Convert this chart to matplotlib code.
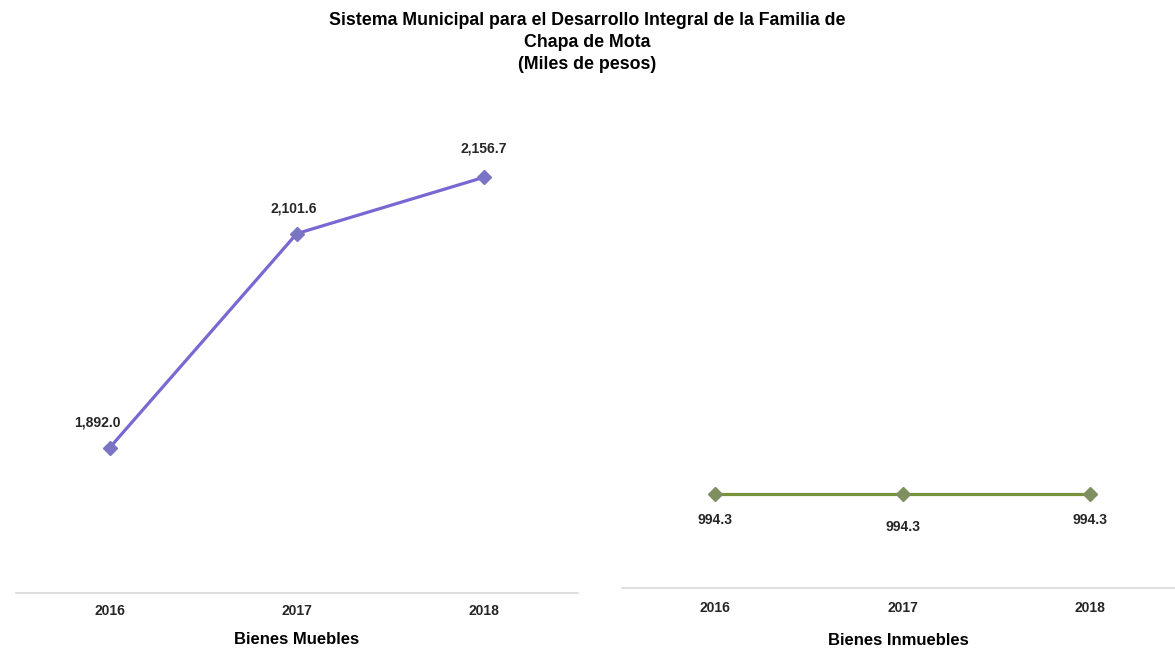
import matplotlib
matplotlib.use('Agg')
import matplotlib.pyplot as plt
from matplotlib import font_manager

years = ['2016', '2017', '2018']
muebles = [1892.0, 2101.6, 2156.7]
inmuebles = [994.3, 994.3, 994.3]

title = 'Sistema Municipal para el Desarrollo Integral de la Familia de\nChapa de Mota\n(Miles de pesos)'

names = {f.name for f in font_manager.fontManager.ttflist}
fam = ['Liberation Sans Narrow', 'Liberation Sans', 'DejaVu Sans']
fam = [f for f in fam if f in names] or ['DejaVu Sans']
plt.rcParams['font.family'] = fam

fig = plt.figure(figsize=(11.75, 6.52), dpi=100)
ax1 = fig.add_axes([0.0136, 0.0905, 0.478, 0.7055])
ax2 = fig.add_axes([0.529, 0.098, 0.4706, 0.698])

x = list(range(len(years)))

def style(ax, xlabel, pad, lpad):
    for s in ['top', 'right', 'left']:
        ax.spines[s].set_visible(False)
    ax.spines['bottom'].set_color('#d9d9d9')
    ax.spines['bottom'].set_linewidth(1.2)
    ax.set_yticks([])
    ax.set_xticks(x)
    ax.set_xticklabels(years, fontsize=10, fontweight='bold', color='#262626')
    ax.tick_params(axis='x', length=0, pad=pad)
    ax.set_xlabel(xlabel, fontsize=12, fontweight='bold', labelpad=lpad)

ax1.plot(x, muebles, color='#7868d2', lw=2.3, marker='D', ms=7,
         mfc='#7a74c4', mec='#7a74c4')
ax1.set_xlim(-0.5, 2.5)
ax1.set_ylim(1750, 2200)
offs = [(-9, 13), (-2, 13), (0, 16)]
for xi, v, o in zip(x, muebles, offs):
    ax1.annotate(f'{v:,.1f}', (xi, v), xytext=o, textcoords='offset points',
                 ha='center', va='bottom', fontsize=10, fontweight='bold', color='#262626')
style(ax1, 'Bienes Muebles', 8, 10)

ax2.plot(x, inmuebles, color='#77933c', lw=2.3, marker='D', ms=7,
         mfc='#7f8f60', mec='#7f8f60')
ax2.set_xlim(-0.5, 2.45)
ax2.set_ylim(0, 4800)
offs2 = [(0, -19), (0, -24), (0, -19)]
for xi, v, o in zip(x, inmuebles, offs2):
    ax2.annotate(f'{v:,.1f}', (xi, v), xytext=o, textcoords='offset points',
                 ha='center', va='center', fontsize=10, fontweight='bold', color='#262626')
style(ax2, 'Bienes Inmuebles', 9.5, 13)

fig.text(0.5, 0.982, title, ha='center', va='top', fontsize=12.8, fontweight='bold',
         linespacing=1.4)

fig.savefig('out.png', dpi=100)
